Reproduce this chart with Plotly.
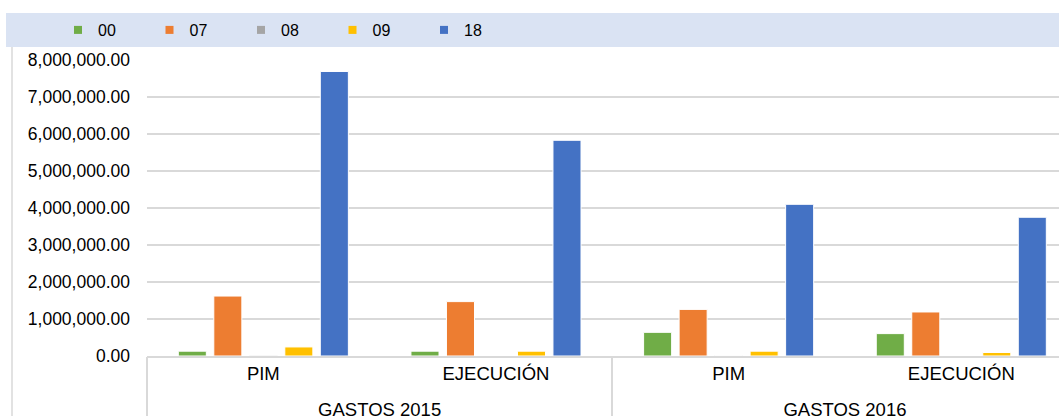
import plotly.graph_objects as go

# Budget categories: (year group, budget stage)
category_keys = ["2015-PIM", "2015-EJE", "2016-PIM", "2016-EJE"]
stage_labels = ["PIM", "EJECUCIÓN", "PIM", "EJECUCIÓN"]
year_labels = ["GASTOS 2015", "GASTOS 2016"]

# Amounts per funding code
series_names = ["00", "07", "08", "09", "18"]
vals_00 = [130000, 130000, 640000, 605000]
vals_07 = [1620000, 1470000, 1260000, 1190000]
vals_08 = [20000, 0, 15000, 0]
vals_09 = [245000, 130000, 130000, 95000]
vals_18 = [7690000, 5830000, 4100000, 3750000]
series_values = [vals_00, vals_07, vals_08, vals_09, vals_18]
colors = ["#70AD47", "#ED7D31", "#A5A5A5", "#FFC000", "#4472C4"]

W, H = 1059, 416
ML, MT, MB = 147, 60, 60
plot_w = W - ML
plot_h = H - MT - MB

# the last category runs past the right edge of the figure
x_range = [-0.5, len(category_keys) - 0.58]
n_per_year = 2
year_centers = [i * n_per_year + (n_per_year - 1) / 2 for i in range(len(year_labels))]
year_bounds = [i * n_per_year - 0.5 for i in range(len(year_labels))]

fig = go.Figure()
for name, vals, col in zip(series_names, series_values, colors):
    fig.add_trace(go.Bar(
        x=category_keys, y=vals, name=name,
        marker=dict(color=col, line=dict(color="white", width=1)),
        showlegend=False,
    ))
# Small square legend keys
for name, col in zip(series_names, colors):
    fig.add_trace(go.Scatter(
        x=[None], y=[None], xaxis="x2", mode="markers", name=name,
        marker=dict(symbol="square", size=8, color=col),
        showlegend=True, hoverinfo="skip",
    ))

def px_x(px):
    return (px - ML) / plot_w

def px_y(py):
    return (H - MB - py) / plot_h

shapes = [
    # legend band
    dict(type="rect", xref="paper", yref="paper",
         x0=px_x(6), x1=px_x(W + 5), y0=px_y(47), y1=px_y(13),
         fillcolor="#DAE3F3", line=dict(width=0), layer="below"),
    # chart area left border
    dict(type="line", xref="paper", yref="paper",
         x0=px_x(12), x1=px_x(12), y0=px_y(47), y1=px_y(H + 5),
         line=dict(color="#D9D9D9", width=1.5)),
]

font_family = "Liberation Sans, Arial, sans-serif"
fig.update_layout(
    width=W, height=H,
    margin=dict(l=ML, r=0, t=MT, b=MB, pad=0, autoexpand=False),
    paper_bgcolor="white", plot_bgcolor="white",
    barmode="group", bargap=0.237, bargroupgap=0.21,
    font=dict(family=font_family, color="#000000"),
    shapes=shapes,
    legend=dict(
        orientation="h", x=px_x(58), xanchor="left", y=px_y(30), yanchor="middle",
        bgcolor="rgba(0,0,0,0)", font=dict(size=16, family=font_family),
        itemwidth=30, entrywidth=46.5, entrywidthmode="pixels",
        itemclick=False,
    ),
    xaxis=dict(
        type="category", range=x_range, automargin=False,
        tickmode="array", tickvals=category_keys, ticktext=stage_labels,
        showline=True, linecolor="#D9D9D9", linewidth=1.5,
        showgrid=False, ticks="", zeroline=False,
        tickfont=dict(size=18.5, family=font_family),
    ),
    # year row underneath, with dividers between the year groups
    xaxis2=dict(
        overlaying="x", anchor="y", side="bottom", type="linear", range=x_range,
        automargin=False,
        tickmode="array", tickvals=year_centers, ticktext=year_labels,
        ticks="", showline=False, showgrid=False, zeroline=False,
        ticklabelstandoff=40,
        tickfont=dict(size=18.5, family=font_family),
        minor=dict(tickmode="array", tickvals=year_bounds, ticks="outside",
                   ticklen=70, tickwidth=1.5, tickcolor="#D9D9D9", showgrid=False),
    ),
    yaxis=dict(
        range=[0, 8000000], dtick=1000000, tickformat=",.2f", automargin=False,
        showgrid=True, gridcolor="#D9D9D9", gridwidth=1.5,
        zeroline=False, showline=False, ticks="",
        ticklabelstandoff=16,
        tickfont=dict(size=17.5, family=font_family),
    ),
)

fig.write_html("out.html")
